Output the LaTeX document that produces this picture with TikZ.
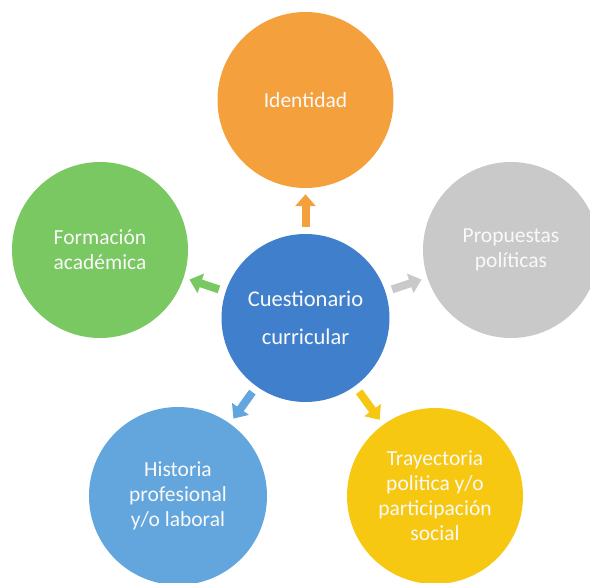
\documentclass[tikz,border=0pt]{standalone}
\usepackage{fontspec}
\setmainfont{Carlito}
\usetikzlibrary{arrows.meta}
\definecolor{cOrange}{HTML}{F4A03C}
\definecolor{cGreen}{HTML}{79C862}
\definecolor{cGray}{HTML}{C9C9C9}
\definecolor{cBlue}{HTML}{3F7FCB}
\definecolor{cLBlue}{HTML}{62A6DD}
\definecolor{cYellow}{HTML}{F7C812}
\begin{document}
\begin{tikzpicture}[x=1pt,y=-1pt,
  bubble/.style={circle,minimum size=176pt,inner sep=0pt,align=center,
    text=white!95!gray,font=\fontsize{21.5}{25}\selectfont},
  hub/.style={bubble,minimum size=168pt,font=\fontsize{22.5}{38}\selectfont},
  blockarrow/.style={line width=8pt,shorten <=7pt,shorten >=6pt,
    -{Triangle[width=20pt,length=12pt]}}
]
\useasboundingbox (0,0) rectangle (590,583);
\node[hub,fill=cBlue] (c) at (305.5,318) {Cuestionario\\curricular};
\node[bubble,fill=cOrange] (id) at (305.5,100) {Identidad};
\node[bubble,fill=cGreen] (fa) at (100,250) {Formación\\académica};
\node[bubble,fill=cGray] (pp) at (511,250) {Propuestas\\políticas};
\node[bubble,fill=cLBlue,minimum size=178pt] (hp) at (178,496) {Historia\\profesional\\y/o laboral};
\node[bubble,fill=cYellow] (tp) at (435,496) {Trayectoria\\politica y/o\\participación\\social};
\draw[blockarrow,cOrange] (c) -- (id);
\draw[blockarrow,cGreen] (c) -- (fa);
\draw[blockarrow,cGray] (c) -- (pp);
\draw[blockarrow,cLBlue] (c) -- (hp);
\draw[blockarrow,cYellow] (c) -- (tp);
\end{tikzpicture}
\end{document}
